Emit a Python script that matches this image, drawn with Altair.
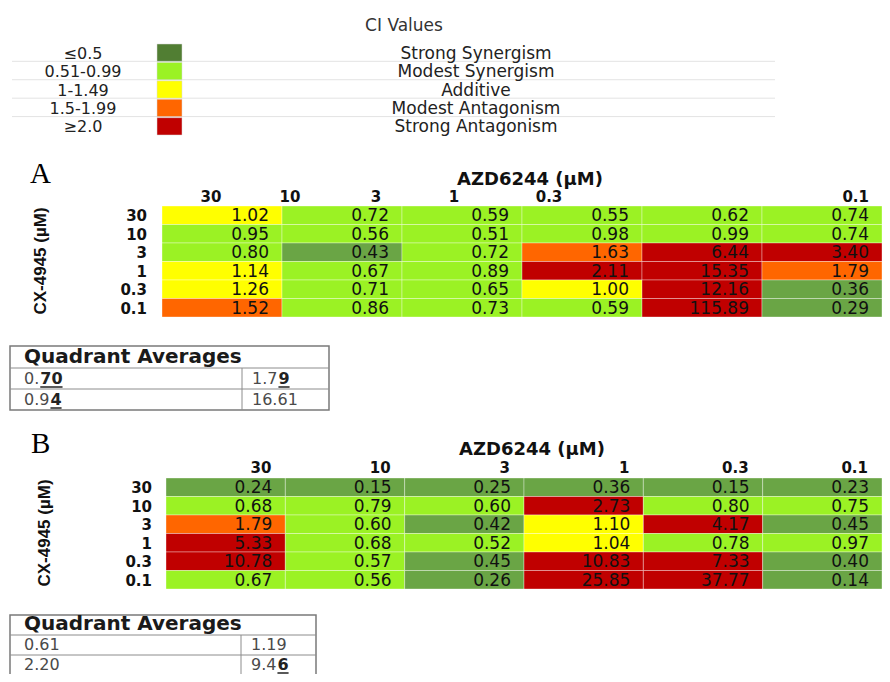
import altair as alt
import pandas as pd

# ---------------- data ----------------
doses = ["30", "10", "3", "1", "0.3", "0.1"]          # CX-4945 rows and AZD6244 columns
col_keys = ["c0", "c1", "c2", "c3", "c4", "c5"]

ci_a = [
    [1.02, 0.72, 0.59, 0.55, 0.62, 0.74],
    [0.95, 0.56, 0.51, 0.98, 0.99, 0.74],
    [0.80, 0.43, 0.72, 1.63, 6.44, 3.40],
    [1.14, 0.67, 0.89, 2.11, 15.35, 1.79],
    [1.26, 0.71, 0.65, 1.00, 12.16, 0.36],
    [1.52, 0.86, 0.73, 0.59, 115.89, 0.29],
]
ci_b = [
    [0.24, 0.15, 0.25, 0.36, 0.15, 0.23],
    [0.68, 0.79, 0.60, 2.73, 0.80, 0.75],
    [1.79, 0.60, 0.42, 1.10, 4.17, 0.45],
    [5.33, 0.68, 0.52, 1.04, 0.78, 0.97],
    [10.78, 0.57, 0.45, 10.83, 7.33, 0.40],
    [0.67, 0.56, 0.26, 25.85, 37.77, 0.14],
]

legend_ranges = ["≤0.5", "0.51-0.99", "1-1.49", "1.5-1.99", "≥2.0"]
legend_names = ["Strong Synergism", "Modest Synergism", "Additive",
                "Modest Antagonism", "Strong Antagonism"]

quad_a = ["0.70", "1.79", "0.94", "16.61"]
quad_a_emph = [2, 1, 1, 0]          # trailing digits shown bold + underlined
quad_b = ["0.61", "1.19", "2.20", "9.46"]
quad_b_emph = [0, 0, 0, 1]

# ---------------- style ----------------
SANS = "DejaVu Sans, Liberation Sans, sans-serif"
SERIF = "Liberation Serif, DejaVu Serif, serif"
NARROW = "Liberation Sans, Arial, sans-serif"
cell_colors = ["#6aa545", "#9bf224", "#ffff00", "#ff6600", "#c00000"]
legend_colors = ["#517e33", "#9bf224", "#ffff00", "#ff6600", "#c00000"]

ONE = alt.Data(values=[{"k": 0}])


def label(text, x, y, size, font=SANS, weight="normal", align="left",
          baseline="alphabetic", color="#222222", angle=0):
    return alt.Chart(ONE).mark_text(
        align=align, baseline=baseline, font=font, fontSize=size,
        fontWeight=weight, color=color, angle=angle
    ).encode(x=alt.value(x), y=alt.value(y), text=alt.value(text))


def hline(x1, x2, y, color="#8c8c8c", w=1.0):
    return alt.Chart(ONE).mark_rule(color=color, strokeWidth=w).encode(
        x=alt.value(x1), x2=alt.value(x2), y=alt.value(y))


def vline(x, y1, y2, color="#8c8c8c", w=1.0):
    return alt.Chart(ONE).mark_rule(color=color, strokeWidth=w).encode(
        x=alt.value(x), y=alt.value(y1), y2=alt.value(y2))


def category(v):
    if v <= 0.5:
        return legend_names[0]
    if v < 1.0:
        return legend_names[1]
    if v < 1.5:
        return legend_names[2]
    if v < 2.0:
        return legend_names[3]
    return legend_names[4]


def heat_df(values):
    recs = []
    for i, r in enumerate(doses):
        for j, c in enumerate(col_keys):
            v = values[i][j]
            recs.append({"row": r, "col": c, "value": v,
                         "cat": category(v), "label": f"{v:.2f}"})
    return pd.DataFrame(recs)


def heatmap(values, x_range, y_range, row_label_right, with_headers=False, header_y=0):
    xs = alt.Scale(domain=col_keys, range=x_range, paddingInner=0, paddingOuter=0)
    ys = alt.Scale(domain=doses, range=y_range, paddingInner=0, paddingOuter=0)
    base = alt.Chart(heat_df(values))
    color = alt.Color("cat:N", scale=alt.Scale(domain=legend_names, range=cell_colors),
                      legend=None)
    rect = base.mark_rect(stroke="#ffffff", strokeOpacity=0.35, strokeWidth=1).encode(
        x=alt.X("col:N", scale=xs, axis=None),
        y=alt.Y("row:N", scale=ys, axis=None),
        color=color,
    )
    txt = base.mark_text(align="right", baseline="middle", dx=-13, dy=1,
                         font=SANS, fontSize=17, color="#111111").encode(
        x=alt.X("col:N", scale=xs, axis=None, bandPosition=1),
        y=alt.Y("row:N", scale=ys, axis=None),
        text="label:N",
    )
    rowlab = alt.Chart(pd.DataFrame({"row": doses})).mark_text(
        align="right", baseline="middle", dy=1, font=SANS, fontSize=15,
        fontWeight="bold", color="#111111").encode(
        x=alt.value(row_label_right),
        y=alt.Y("row:N", scale=ys, axis=None),
        text="row:N",
    )
    parts = [rect, txt, rowlab]
    if with_headers:
        head = alt.Chart(pd.DataFrame({"col": col_keys, "head": doses})).mark_text(
            align="right", baseline="alphabetic", dx=-14, font=SANS, fontSize=15,
            fontWeight="bold", color="#111111").encode(
            x=alt.X("col:N", scale=xs, axis=None, bandPosition=1),
            y=alt.value(header_y),
            text="head:N",
        )
        parts.append(head)
    return alt.layer(*parts)


def text_width(s, size, bold=False):
    w = 0.0
    for ch in s:
        if ch == ".":
            w += 0.38 if bold else 0.318
        else:
            w += 0.696 if bold else 0.636
    return w * size


def quad_table(vals, emph, left, right, top, h_head, h_row, divider):
    layers = []
    bottom = top + h_head + 2 * h_row
    layers.append(alt.Chart(ONE).mark_rect(fill="white", stroke="#7a7a7a",
                                           strokeWidth=1.5).encode(
        x=alt.value(left), x2=alt.value(right), y=alt.value(top), y2=alt.value(bottom)))
    layers.append(hline(left, right, top + h_head))
    layers.append(hline(left, right, top + h_head + h_row))
    layers.append(vline(divider, top + h_head, bottom))
    layers.append(label("Quadrant Averages", left + 14, top + h_head - 5, 20,
                        weight="bold", color="#1a1a1a"))
    size = 16
    for k, s in enumerate(vals):
        r, c = divmod(k, 2)
        x0 = left + 14 if c == 0 else divider + 10
        yb = top + h_head + (r + 1) * h_row - 5
        n = emph[k]
        pre, suf = (s[:len(s) - n], s[len(s) - n:]) if n else (s, "")
        layers.append(label(pre, x0, yb, size, color="#4a4a4a"))
        if suf:
            xs = x0 + text_width(pre, size) + 1
            layers.append(label(suf, xs, yb, size, weight="bold", color="#222222"))
            layers.append(hline(xs, xs + text_width(suf, size, True), yb + 3,
                                color="#222222", w=1.5))
    return layers


# ---------------- legend ----------------
leg_df = pd.DataFrame({"cat": legend_names, "rng": legend_ranges})
leg_y = alt.Scale(domain=legend_names, range=[36, 127], paddingInner=0.06, paddingOuter=0)
leg_base = alt.Chart(leg_df)
leg_sep = alt.Chart(pd.DataFrame({"cat": legend_names[:4]})).mark_rule(
    color="#e3e3e3", strokeWidth=1).encode(
    y=alt.Y("cat:N", scale=leg_y, axis=None, bandPosition=1),
    x=alt.value(4), x2=alt.value(767))
leg_sw = leg_base.mark_rect(stroke="#d8d8d8", strokeWidth=0.5).encode(
    y=alt.Y("cat:N", scale=leg_y, axis=None),
    x=alt.value(149), x2=alt.value(174),
    color=alt.Color("cat:N", scale=alt.Scale(domain=legend_names, range=legend_colors),
                    legend=None))
leg_rng = leg_base.mark_text(align="center", baseline="middle", dy=1, font=SANS,
                             fontSize=16, color="#222222").encode(
    y=alt.Y("cat:N", scale=leg_y, axis=None), x=alt.value(75), text="rng:N")
leg_nm = leg_base.mark_text(align="center", baseline="middle", dy=1, font=SANS,
                            fontSize=17, color="#222222").encode(
    y=alt.Y("cat:N", scale=leg_y, axis=None), x=alt.value(468), text="cat:N")
legend = alt.layer(leg_sep, leg_sw, leg_rng, leg_nm)

# ---------------- panels ----------------
panel_a = heatmap(ci_a, [154, 874], [198, 309], 139)
panel_b = heatmap(ci_b, [158, 874], [470, 581], 144, with_headers=True, header_y=465)

HB = dict(weight="bold", color="#111111")
annots = [
    label("CI Values", 396, 23, 17, color="#333333", align="center"),
    label("A", 22, 175, 29, font=SERIF, color="#000000"),
    label("AZD6244 (µM)", 522, 177, 18, align="center", **HB),
    label("30", 203, 194, 15, align="center", **HB),
    label("10", 282, 194, 15, align="center", **HB),
    label("3", 368, 194, 15, align="center", **HB),
    label("1", 446, 194, 15, align="center", **HB),
    label("0.3", 541, 194, 15, align="center", **HB),
    label("0.1", 861, 194, 15, align="right", **HB),
    label("CX-4945 (µM)", 33, 253, 17, font=NARROW, align="center",
          baseline="middle", angle=270, **HB),
    label("B", 23, 445, 29, font=SERIF, color="#000000"),
    label("AZD6244 (µM)", 524, 447, 18, align="center", **HB),
    label("CX-4945 (µM)", 37, 525, 17, font=NARROW, align="center",
          baseline="middle", angle=270, **HB),
]

table_a = quad_table(quad_a, quad_a_emph, 2, 321, 338, 22, 21, 234)
table_b = quad_table(quad_b, quad_b_emph, 2, 308, 607, 20, 20, 233)

chart = alt.layer(legend, panel_a, panel_b, *annots, *table_a, *table_b).resolve_scale(
    x="independent", y="independent", color="independent"
).properties(
    width=874, height=666, padding=0,
    autosize=alt.AutoSizeParams(type="none"), background="white"
).configure_view(strokeWidth=0)

chart.save("out.html", embed_options={"renderer": "svg", "actions": False})
